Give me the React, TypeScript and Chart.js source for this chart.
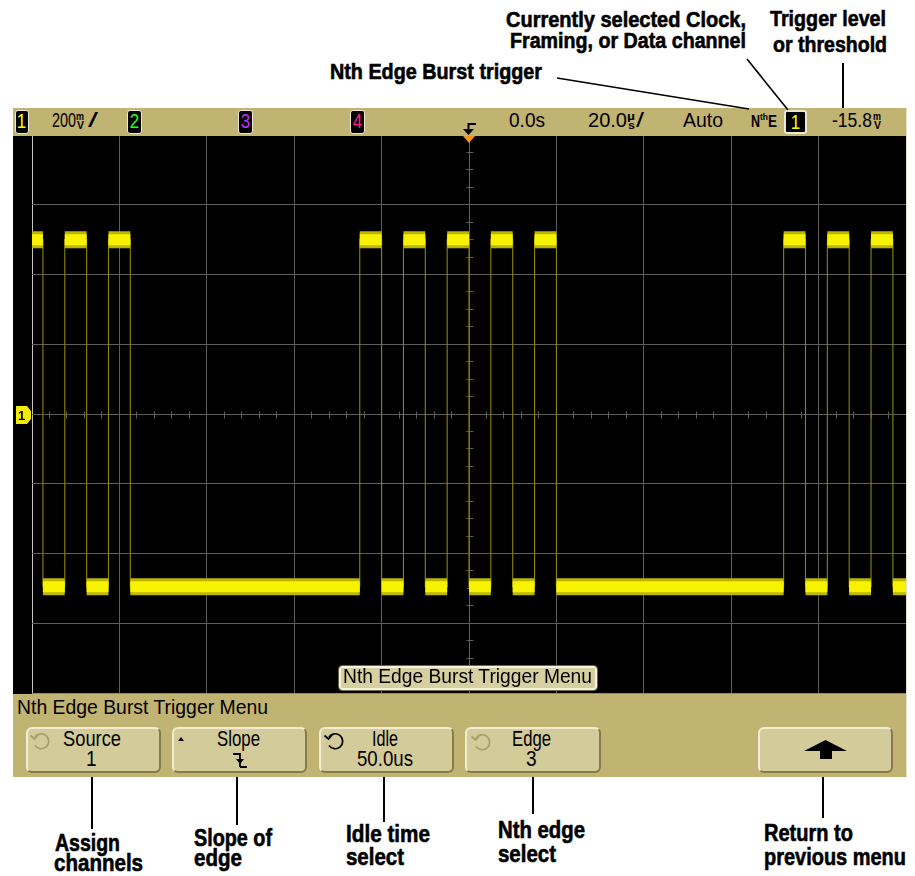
import React, { useEffect, useLayoutEffect, useRef } from 'react';
import { Chart, registerables } from 'chart.js';

Chart.register(...registerables);

// ---------- data ----------
// time axis: 20 us/div, centred on 0.0 s; voltage axis: 200 mV/div
const xTicksUs = [-100, -80, -60, -40, -20, 0, 20, 40, 60, 80, 100];
const yTicksMv = [-800, -600, -400, -200, 0, 200, 400, 600, 800];
const segmentStartUs = [-100, -97.5, -92.5, -87.5, -82.5, -77.5, -25, -20, -15, -10, -5, 0, 5, 10, 15, 20, 72, 77, 82, 87, 92, 97];
const segmentEndUs = [-97.5, -92.5, -87.5, -82.5, -77.5, -25, -20, -15, -10, -5, 0, 5, 10, 15, 20, 72, 77, 82, 87, 92, 97, 100];
const segmentLevelMv = [500, -495, 500, -495, 500, -495, 500, -495, 500, -495, 500, -495, 500, -495, 500, -495, 500, -495, 500, -495, 500, -495];

const X_MINOR_US = 4;
const Y_MINOR_MV = 50;

const FONT = '"Liberation Sans", Arial, sans-serif';
const TAN = '#c1b372';
const BTN = '#d3cc9a';

function FitText(props: { x: number; base: number; w?: number; size: number; bold?: boolean; heavy?: boolean; color?: string; children: any }) {
  const { x, base, w, size, bold, heavy, color, children } = props;
  const ref = useRef<HTMLSpanElement>(null);
  useLayoutEffect(() => {
    const el = ref.current;
    if (!el || !w) return;
    el.style.transform = 'none';
    const nat = el.getBoundingClientRect().width;
    if (nat > 0) el.style.transform = `scaleX(${w / nat})`;
  }, [w, children, size]);
  return (
    <span
      ref={ref}
      style={{
        position: 'absolute',
        left: x,
        top: base - 0.8465 * size,
        fontSize: size,
        lineHeight: `${size}px`,
        fontFamily: FONT,
        fontWeight: bold ? 700 : 400,
        whiteSpace: 'nowrap',
        transformOrigin: '0 0',
        color: color || '#000',
        WebkitTextStroke: heavy ? `0.6px ${color || '#000'}` : undefined,
        zIndex: 5,
      } as any}
    >
      {children}
    </span>
  );
}

function ChanBox(props: { x: number; w: number; color: string; label: string; thick?: boolean }) {
  const { x, w, color, label, thick } = props;
  return (
    <div
      style={{
        position: 'absolute',
        left: x,
        top: 110,
        width: w,
        height: 24,
        boxSizing: 'border-box',
        background: '#000',
        border: `${thick ? 2 : 1.5}px solid #ece8d6`,
        borderRadius: 3,
        color,
        fontFamily: FONT,
        fontSize: 20,
        lineHeight: '21px',
        textAlign: 'center',
        zIndex: 5,
      }}
    >
      <span style={{ display: 'inline-block', transform: 'scaleX(0.85)' }}>{label}</span>
    </div>
  );
}

function Stack(props: { x: number; top: string; bottom: string }) {
  const { x, top, bottom } = props;
  return (
    <>
      <FitText x={x} base={120.5} w={8} size={11.5} bold>{top}</FitText>
      <FitText x={x + 0.5} base={129} w={7} size={11} bold>{bottom}</FitText>
    </>
  );
}

function Button(props: { x: number; w: number }) {
  return (
    <div
      style={{
        position: 'absolute',
        left: props.x,
        top: 727,
        width: props.w,
        height: 46,
        boxSizing: 'border-box',
        background: BTN,
        borderStyle: 'solid',
        borderWidth: 2,
        borderColor: '#f1ecd2 #857a4c #857a4c #f1ecd2',
        borderRadius: 6,
        zIndex: 4,
      }}
    />
  );
}

function CircArrow(props: { cx: number; cy: number; color: string }) {
  const { cx, cy, color } = props;
  return (
    <g stroke={color} fill="none" strokeWidth={1.7}>
      <path d={`M ${cx - 6} ${cy - 4} A 7.5 7.5 0 1 1 ${cx - 6} ${cy + 4.5}`} />
      <path d={`M ${cx - 10.5} ${cy - 5.5} L ${cx - 6.5} ${cy - 2} L ${cx - 3} ${cy - 6}`} />
    </g>
  );
}

export default function App() {
  const canvasRef = useRef<HTMLCanvasElement>(null);

  useEffect(() => {
    const canvas = canvasRef.current;
    if (!canvas) return;

    const bandPoints: any[] = [];
    const tracePoints: any[] = [];
    segmentStartUs.forEach((s, i) => {
      const e = segmentEndUs[i];
      const v = segmentLevelMv[i];
      bandPoints.push({ x: s, y: v }, { x: e, y: v }, { x: e, y: null });
      tracePoints.push({ x: s, y: v }, { x: e, y: v });
    });

    const align = (p: number) => Math.round(p - 0.5) + 0.5;

    const background = {
      id: 'scopeBackground',
      beforeDraw(chart: any) {
        const { ctx, width, height } = chart;
        ctx.save();
        ctx.fillStyle = '#000';
        ctx.fillRect(0, 0, width, height);
        ctx.restore();
      },
    };

    const minorTicks = {
      id: 'minorTicks',
      beforeDatasetsDraw(chart: any) {
        const { ctx } = chart;
        const xs = chart.scales.x;
        const ys = chart.scales.y;
        const y0 = align(ys.getPixelForValue(0));
        const x0 = align(xs.getPixelForValue(0));
        ctx.save();
        ctx.strokeStyle = '#5e5e5e';
        ctx.lineWidth = 1;
        ctx.beginPath();
        for (let t = xs.min + X_MINOR_US; t < xs.max; t += X_MINOR_US) {
          const px = align(xs.getPixelForValue(t));
          ctx.moveTo(px, y0 - 3);
          ctx.lineTo(px, y0 + 4);
        }
        for (let v = ys.min + Y_MINOR_MV; v < ys.max; v += Y_MINOR_MV) {
          const py = align(ys.getPixelForValue(v));
          ctx.moveTo(x0 - 3, py);
          ctx.lineTo(x0 + 4, py);
        }
        ctx.stroke();
        ctx.restore();
      },
    };

    const chart = new Chart(canvas, {
      type: 'line',
      data: {
        datasets: [
          {
            data: bandPoints,
            borderColor: '#f7f300',
            borderWidth: 11,
            borderCapStyle: 'butt',
            pointRadius: 0,
            spanGaps: false,
            order: 1,
          },
          {
            data: bandPoints,
            borderColor: '#bdb600',
            borderWidth: 17,
            borderCapStyle: 'butt',
            pointRadius: 0,
            spanGaps: false,
            order: 2,
          },
          {
            data: tracePoints,
            borderColor: '#8c8500',
            borderWidth: 1.1,
            pointRadius: 0,
            order: 3,
          },
        ],
      } as any,
      options: {
        animation: false,
        responsive: false,
        events: [],
        layout: { padding: { left: 19, right: 1, top: 5, bottom: 5 }, autoPadding: false } as any,
        plugins: { legend: { display: false }, tooltip: { enabled: false }, title: { display: false } },
        scales: {
          x: {
            type: 'linear',
            min: xTicksUs[0],
            max: xTicksUs[xTicksUs.length - 1],
            afterBuildTicks: (s: any) => { s.ticks = xTicksUs.map((v) => ({ value: v })); },
            ticks: { display: false },
            border: { display: false },
            grid: {
              drawTicks: false,
              lineWidth: 1,
              color: (c: any) => (c.tick && c.tick.value === xTicksUs[0] ? '#c4c4c4' : c.tick && c.tick.value === xTicksUs[xTicksUs.length - 1] ? '#d9d3b4' : '#5e5e5e'),
            },
          },
          y: {
            type: 'linear',
            min: yTicksMv[0],
            max: yTicksMv[yTicksMv.length - 1],
            afterBuildTicks: (s: any) => { s.ticks = yTicksMv.map((v) => ({ value: v })); },
            ticks: { display: false },
            border: { display: false },
            grid: { drawTicks: false, lineWidth: 1, color: (c: any) => (c.tick && c.tick.value === yTicksMv[0] ? '#8a8a8a' : '#5e5e5e') },
          },
        },
      } as any,
      plugins: [background, minorTicks],
    });
    return () => chart.destroy();
  }, []);

  return (
    <div style={{ position: 'absolute', left: 0, top: 0, width: 915, height: 876, background: '#fff', overflow: 'hidden', fontFamily: FONT }}>
      <canvas ref={canvasRef} width={894} height={568} style={{ position: 'absolute', left: 13, top: 130, width: 894, height: 568, display: 'block' }} />

      {/* status bar */}
      <div style={{ position: 'absolute', left: 13, top: 108, width: 894, height: 28, background: TAN, zIndex: 3 }} />
      <ChanBox x={15} w={14} color="#ffff00" label="1" />
      <FitText x={52} base={128} w={24} size={19.5}>200</FitText>
      <Stack x={76} top="m" bottom="V" />
      <FitText x={88} base={128} w={10} size={19.5}>/</FitText>
      <ChanBox x={127} w={15} color="#22ff22" label="2" />
      <ChanBox x={238} w={15} color="#c030ff" label="3" />
      <ChanBox x={350} w={15} color="#ff2090" label="4" />
      <FitText x={509} base={128} w={36} size={19.5}>0.0s</FitText>
      <FitText x={588} base={128} w={39} size={19.5}>20.0</FitText>
      <Stack x={627} top="µ" bottom="s" />
      <FitText x={636} base={128} w={8} size={19.5}>/</FitText>
      <FitText x={683} base={128} w={40} size={19.5}>Auto</FitText>
      <FitText x={751} base={128} w={9} size={16} bold>N</FitText>
      <FitText x={760} base={121} w={8} size={9} bold>th</FitText>
      <FitText x={768} base={128} w={9} size={16} bold>E</FitText>
      <ChanBox x={784} w={23} color="#ffff00" label="1" thick />
      <FitText x={832} base={128} w={40} size={19.5}>-15.8</FitText>
      <Stack x={873} top="m" bottom="V" />

      {/* menu area */}
      <div style={{ position: 'absolute', left: 13, top: 694, width: 894, height: 83, background: TAN, zIndex: 3 }} />
      <FitText x={17} base={715} w={251} size={19.5}>Nth Edge Burst Trigger Menu</FitText>
      <Button x={26} w={135} />
      <Button x={172} w={135} />
      <Button x={319} w={135} />
      <Button x={465} w={136} />
      <Button x={758} w={135} />
      <FitText x={63} base={747} w={58} size={22.5}>Source</FitText>
      <FitText x={85.5} base={767} w={10.6} size={22.5}>1</FitText>
      <FitText x={217} base={747} w={43} size={22.5}>Slope</FitText>
      <FitText x={372} base={747} w={26} size={22.5}>Idle</FitText>
      <FitText x={357} base={767} w={56} size={22.5}>50.0us</FitText>
      <FitText x={512} base={747} w={39} size={22.5}>Edge</FitText>
      <FitText x={526} base={767} w={10.6} size={22.5}>3</FitText>

      {/* on-screen menu label */}
      <div style={{ position: 'absolute', left: 339, top: 666, width: 258, height: 24, boxSizing: 'border-box', background: '#d6cf9f', border: '2px solid #f6f3e3', outline: '1px solid #6d6540', borderRadius: 3, zIndex: 4 }} />
      <FitText x={343} base={684} w={249} size={19.5}>Nth Edge Burst Trigger Menu</FitText>

      {/* symbols, markers and leader lines */}
      <svg width={915} height={876} style={{ position: 'absolute', left: 0, top: 0, zIndex: 6, pointerEvents: 'none' }}>
        {/* trigger edge symbol in status bar */}
        <path d="M 476 124 H 468.5 V 131" stroke="#000" strokeWidth={2} fill="none" />
        <polygon points="463,129 474,129 468.5,135" fill="#000" />
        {/* trigger position marker */}
        <polygon points="463,136 475,136 469,143" fill="#f7941d" />
        {/* channel 1 ground marker */}
        <polygon points="16,406 27,406 31,411 31,419 27,424 16,424" fill="#f2ec00" />
        <text x={21.5} y={420} fontSize={13} fontFamily={FONT} fontWeight={700} fill="#000" textAnchor="middle">1</text>
        {/* button icons */}
        <CircArrow cx={41} cy={741} color="#a69c72" />
        <polygon points="178,741 184,741 181,737" fill="#000" />
        <path d="M 233 754 H 240 V 767 M 240 767 H 247" stroke="#000" strokeWidth={1.8} fill="none" />
        <polygon points="236,759 244,759 240,764" fill="#000" />
        <CircArrow cx={335} cy={741} color="#000" />
        <CircArrow cx={482} cy={742} color="#a69c72" />
        <polygon points="804,751 825.5,740 847,751" fill="#000" />
        <rect x={820} y={750} width={12} height={9} fill="#000" />
        {/* right edge of display */}
        <line x1={906.5} y1={108} x2={906.5} y2={777} stroke="#e4dfc6" strokeWidth={1} />
        {/* leader lines */}
        <line x1={557} y1={78} x2={749} y2={109} stroke="#000" strokeWidth={1.6} />
        <line x1={747} y1={59} x2={788} y2={110} stroke="#000" strokeWidth={1.6} />
        <line x1={843} y1={63} x2={843} y2={108} stroke="#000" strokeWidth={2} />
        <line x1={92} y1={777} x2={92} y2={829} stroke="#000" strokeWidth={2} />
        <line x1={237} y1={777} x2={237} y2={825} stroke="#000" strokeWidth={2} />
        <line x1={384} y1={777} x2={384} y2={822} stroke="#000" strokeWidth={2} />
        <line x1={533} y1={777} x2={533} y2={814} stroke="#000" strokeWidth={2} />
        <line x1={823} y1={777} x2={823} y2={818} stroke="#000" strokeWidth={2} />
      </svg>

      {/* annotations */}
      <FitText x={506} base={28} w={240} size={21.5} bold heavy>Currently selected Clock,</FitText>
      <FitText x={510} base={49} w={236} size={21.5} bold heavy>Framing, or Data channel</FitText>
      <FitText x={770} base={27} w={116} size={21.5} bold heavy>Trigger level</FitText>
      <FitText x={773} base={53} w={114} size={21.5} bold heavy>or threshold</FitText>
      <FitText x={330} base={80} w={212} size={21.5} bold heavy>Nth Edge Burst trigger</FitText>

      <FitText x={55} base={852} w={65} size={23.5} bold heavy>Assign</FitText>
      <FitText x={54} base={872} w={89} size={23.5} bold heavy>channels</FitText>
      <FitText x={194} base={847} w={78} size={23.5} bold heavy>Slope of</FitText>
      <FitText x={194} base={867} w={48} size={23.5} bold heavy>edge</FitText>
      <FitText x={346} base={843} w={84} size={23.5} bold heavy>Idle time</FitText>
      <FitText x={346} base={866} w={58} size={23.5} bold heavy>select</FitText>
      <FitText x={498} base={839} w={87} size={23.5} bold heavy>Nth edge</FitText>
      <FitText x={498} base={863} w={58} size={23.5} bold heavy>select</FitText>
      <FitText x={764} base={842} w={89} size={23.5} bold heavy>Return to</FitText>
      <FitText x={764} base={866} w={142} size={23.5} bold heavy>previous menu</FitText>
    </div>
  );
}
